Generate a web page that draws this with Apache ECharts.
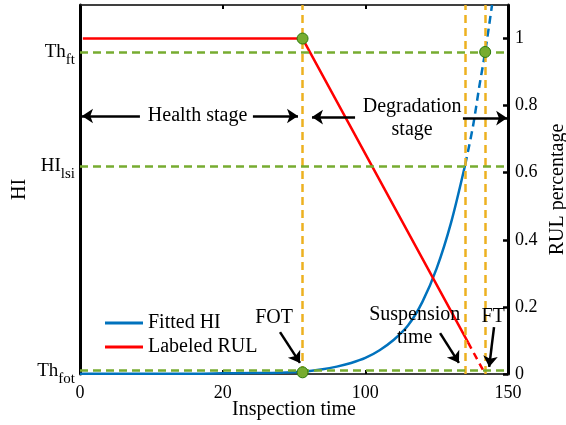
<!DOCTYPE html>
<html>
<head>
<meta charset="utf-8">
<script src="https://cdn.jsdelivr.net/npm/echarts@6/dist/echarts.min.js"></script>
<style>html,body{margin:0;padding:0;background:#fff}#c{width:566px;height:425px}</style>
</head>
<body>
<div id="c"></div>
<script>
// ---- data ----
const xTickLabels = ['0', '20', '100', '150'];
const hiTimes = [0, 10, 20, 30, 40, 50, 60, 70, 78, 85, 90, 95, 100, 105, 110, 115, 120, 125, 130, 135];
const fittedHI = [0.001, 0.001, 0.001, 0.001, 0.001, 0.002, 0.003, 0.004, 0.007, 0.014, 0.022, 0.033, 0.048, 0.071, 0.102, 0.145, 0.215, 0.315, 0.45, 0.624];
const predTimes = [135, 137.7, 140, 142, 144.4];
const predHI = [0.624, 0.737, 0.86, 0.96, 1.1];
const rulTimes = [1, 78, 136];
const rulValues = [1, 1, 0.094];
const rulDashTimes = [136, 142];
const rulDashValues = [0.094, 0];
const stageTimes = [78, 135, 142];          // FOT, suspension time, FT
const thresholdNames = ['ft', 'lsi', 'fot'];
const thresholdValues = [0.96, 0.624, 0.005];
const thresholdPrefix = ['Th', 'HI', 'Th'];
const keyTimes = [78, 78, 142];
const keyValues = [1, 0.005, 0.96];
// annotation texts and arrows (data coordinates)
const noteTexts = ['Health stage', 'Degradation\nstage', 'FOT', 'Suspension\ntime', 'FT'];
const noteX = [41.2, 116.4, 68.0, 117.3, 144.8];
const noteY = [0.769, 0.762, 0.167, 0.142, 0.170];
const arrowFrom = [[21, 0.769], [60.6, 0.769], [96.4, 0.766], [134.2, 0.763], [70.1, 0.125], [126.2, 0.122], [145.1, 0.140]];
const arrowTo = [[0.7, 0.769], [76.4, 0.769], [81.3, 0.766], [149.7, 0.763], [77.1, 0.033], [132.8, 0.033], [143.4, 0.021]];

const zip = (a, b) => a.map((v, i) => [v, b[i]]);
const FONT = 'Liberation Serif';
const ORANGE = '#EDB120', GREEN = '#77AC30', BLUE = '#0072BD', RED = '#FF0000';

const chart = echarts.init(document.getElementById('c'), null, {renderer: 'canvas'});
chart.setOption({
  animation: false,
  textStyle: {fontFamily: FONT, color: '#000'},
  grid: {left: 80, right: 58, top: 5, bottom: 51, show: true, borderColor: '#262626', borderWidth: 1,
         containLabel: false, outerBoundsMode: 'none'},
  legend: {
    data: ['Fitted HI', 'Labeled RUL'], orient: 'vertical', left: 100, top: 308,
    icon: 'rect', itemWidth: 38, itemHeight: 3, itemGap: 4,
    textStyle: {fontFamily: FONT, fontSize: 20, color: '#000', lineHeight: 20}
  },
  xAxis: [{
    type: 'value', min: 0, max: 150, interval: 50, position: 'bottom',
    name: 'Inspection time', nameLocation: 'middle', nameGap: 26, nameMoveOverlap: false,
    nameTextStyle: {fontFamily: FONT, fontSize: 20, color: '#000'},
    axisLine: {onZero: false, lineStyle: {color: '#262626', width: 1.5}},
    axisTick: {inside: true, length: 4, lineStyle: {color: '#000', width: 2}},
    axisLabel: {fontFamily: FONT, fontSize: 18, color: '#000', margin: 10,
      formatter: (v, i) => xTickLabels[i] !== undefined ? xTickLabels[i] : ''},
    splitLine: {show: false}
  }, {
    type: 'value', min: 0, max: 150, interval: 50, position: 'top',
    axisLine: {onZero: false, lineStyle: {color: '#262626', width: 1.5}},
    axisTick: {inside: true, length: 4, lineStyle: {color: '#000', width: 2}},
    axisLabel: {show: false}, splitLine: {show: false}
  }],
  yAxis: [{
    type: 'value', min: 0, max: 1.1, position: 'left',
    name: 'HI', nameLocation: 'middle', nameGap: 50, nameMoveOverlap: false,
    nameTextStyle: {fontFamily: FONT, fontSize: 20, color: '#000'},
    axisLine: {show: true, onZero: false, lineStyle: {color: '#000', width: 3}},
    axisTick: {show: false}, axisLabel: {show: false}, splitLine: {show: false}
  }, {
    type: 'value', min: 0, max: 1.1, interval: 0.2, position: 'right',
    name: 'RUL percentage', nameLocation: 'middle', nameGap: 40, nameMoveOverlap: false,
    nameTextStyle: {fontFamily: FONT, fontSize: 20, color: '#000'},
    axisLine: {show: true, onZero: false, lineStyle: {color: '#000', width: 3}},
    axisTick: {inside: true, length: 5, lineStyle: {color: '#000', width: 2.5}},
    axisLabel: {fontFamily: FONT, fontSize: 18, color: '#000', margin: 7, showMaxLabel: false},
    splitLine: {show: false}
  }],
  series: [
    {name: 'Fitted HI', type: 'line', yAxisIndex: 0, data: zip(hiTimes, fittedHI), showSymbol: false,
     smooth: 0.3, lineStyle: {color: BLUE, width: 2.5}, itemStyle: {color: BLUE}, z: 2},
    {name: 'Predicted HI', type: 'line', yAxisIndex: 0, data: zip(predTimes, predHI), showSymbol: false,
     smooth: 0.3, lineStyle: {color: BLUE, width: 2.5, type: [8, 5]}, itemStyle: {color: BLUE}, z: 2},
    {name: 'Labeled RUL', type: 'line', yAxisIndex: 1, data: zip(rulTimes, rulValues), showSymbol: false,
     lineStyle: {color: RED, width: 2.5}, itemStyle: {color: RED}, z: 2},
    {name: 'RUL extension', type: 'line', yAxisIndex: 1, data: zip(rulDashTimes, rulDashValues), showSymbol: false,
     lineStyle: {color: RED, width: 2.5, type: [7, 5]}, itemStyle: {color: RED}, z: 2},
    {name: 'guides', type: 'line', yAxisIndex: 0, data: [], z: 3,
     markLine: {
       silent: true, symbol: 'none', animation: false,
       data: [
         ...stageTimes.map(t => ({xAxis: t, lineStyle: {color: ORANGE, width: 2.5, type: [8, 5]}, label: {show: false}})),
         ...thresholdValues.map((v, i) => ({
           yAxis: v, lineStyle: {color: GREEN, width: 2.5, type: [8, 5]},
           label: {show: true, position: 'start', distance: 5,
             formatter: '{b|' + thresholdPrefix[i] + '}{s|' + thresholdNames[i] + '}',
             rich: {b: {fontFamily: FONT, fontSize: 19, color: '#000', lineHeight: 20},
                    s: {fontFamily: FONT, fontSize: 15, color: '#000', lineHeight: 16, padding: [16, 0, 0, 0]}}}
         }))
       ]
     }},
    {name: 'arrows', type: 'line', yAxisIndex: 0, data: [], z: 4,
     markLine: {
       silent: true, symbol: ['none', 'arrow'], symbolSize: 11, animation: false,
       lineStyle: {color: '#000', width: 2.5, type: 'solid'}, itemStyle: {color: '#000'},
       label: {show: false},
       data: arrowFrom.map((f, i) => [{coord: f}, {coord: arrowTo[i]}])
     },
     markPoint: {
       silent: true, symbol: 'circle', symbolSize: 1, itemStyle: {color: 'rgba(0,0,0,0)'},
       label: {show: true, position: 'inside', formatter: '{b}', fontFamily: FONT, fontSize: 20, color: '#000', lineHeight: 23},
       data: noteTexts.map((t, i) => ({name: t, coord: [noteX[i], noteY[i]]}))
     }},
    {name: 'key points', type: 'scatter', yAxisIndex: 0, data: zip(keyTimes, keyValues), symbolSize: 11, z: 6,
     itemStyle: {color: GREEN, borderColor: '#2B7A0B', borderWidth: 1, opacity: 1}}
  ]
});
</script>
</body>
</html>
